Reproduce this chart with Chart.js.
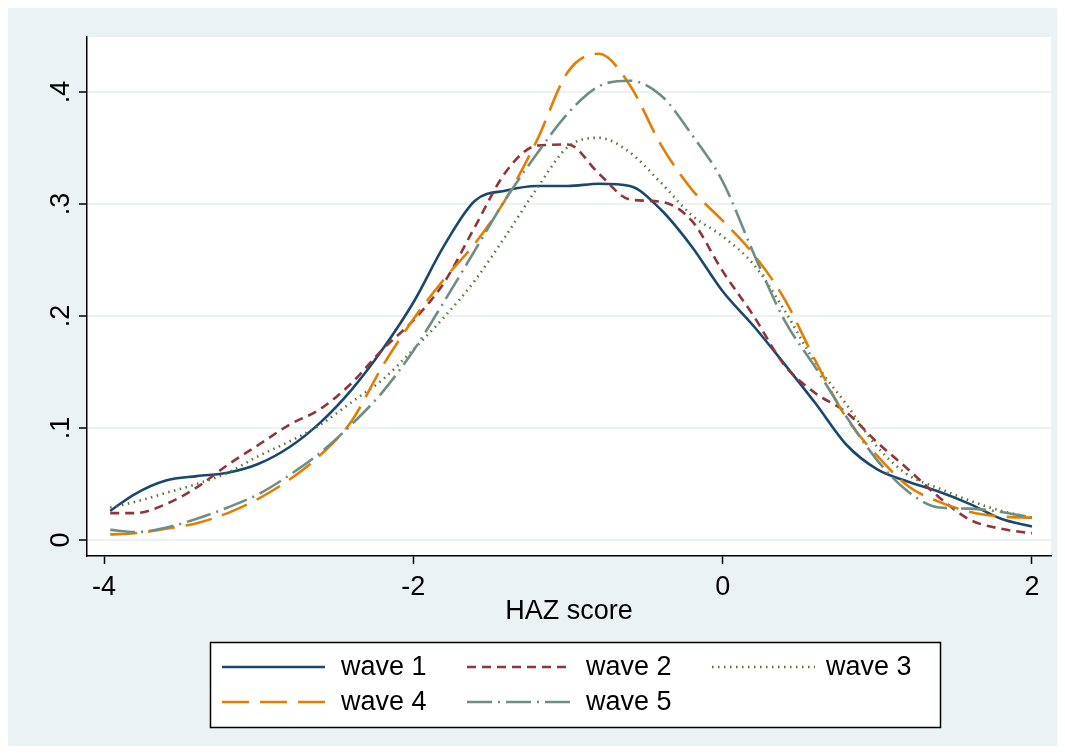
<!DOCTYPE html>
<html>
<head>
<meta charset="utf-8">
<title>HAZ score density by wave</title>
<script src="https://cdn.jsdelivr.net/npm/chart.js@4.4.1/dist/chart.umd.min.js"></script>
<style>
    html, body { margin: 0; padding: 0; background: #fff; }
    canvas { display: block; }
</style>
</head>
<body>
<canvas id="chartHaz" width="1065" height="754"></canvas>
<script>
// HAZ score grid (x) and kernel density per wave
const hazGrid = [-3.96, -3.8, -3.6, -3.4, -3.2, -3.0, -2.8, -2.6, -2.4, -2.2, -2.0, -1.8, -1.6, -1.4, -1.2, -1.0,
    -0.8, -0.6, -0.4, -0.2, 0, 0.2, 0.4, 0.6, 0.8, 1.0, 1.2, 1.4, 1.6, 1.8, 2.0];
const wave1 = [0.026, 0.041, 0.053, 0.057, 0.060, 0.068, 0.083, 0.105, 0.134, 0.170, 0.212, 0.263, 0.303, 0.312, 0.316, 0.316,
    0.318, 0.316, 0.295, 0.262, 0.222, 0.191, 0.157, 0.122, 0.085, 0.063, 0.052, 0.043, 0.032, 0.019, 0.012];
const wave2 = [0.024, 0.024, 0.032, 0.047, 0.067, 0.085, 0.103, 0.117, 0.140, 0.170, 0.196, 0.230, 0.280, 0.329, 0.352, 0.353,
    0.327, 0.304, 0.302, 0.285, 0.240, 0.200, 0.156, 0.131, 0.114, 0.087, 0.063, 0.038, 0.018, 0.010, 0.006];
const wave3 = [0.029, 0.034, 0.042, 0.050, 0.060, 0.075, 0.088, 0.103, 0.123, 0.143, 0.170, 0.199, 0.232, 0.272, 0.314, 0.351,
    0.359, 0.346, 0.319, 0.290, 0.271, 0.246, 0.205, 0.158, 0.121, 0.083, 0.058, 0.046, 0.035, 0.026, 0.020];
const wave4 = [0.005, 0.006, 0.010, 0.015, 0.024, 0.037, 0.054, 0.076, 0.106, 0.155, 0.197, 0.233, 0.265, 0.305, 0.357, 0.418,
    0.434, 0.406, 0.353, 0.313, 0.285, 0.255, 0.215, 0.160, 0.109, 0.075, 0.048, 0.034, 0.025, 0.021, 0.020];
const wave5 = [0.009, 0.007, 0.011, 0.019, 0.029, 0.041, 0.058, 0.078, 0.103, 0.132, 0.169, 0.213, 0.259, 0.305, 0.345, 0.381,
    0.405, 0.410, 0.397, 0.362, 0.320, 0.256, 0.196, 0.154, 0.110, 0.071, 0.043, 0.029, 0.028, 0.025, 0.020];

const waveLabels = ['wave 1', 'wave 2', 'wave 3', 'wave 4', 'wave 5'];
const xTicks = [-4, -2, 0, 2];
const yTicks = [0, 0.1, 0.2, 0.3, 0.4];

const FONT = '"Liberation Sans", Arial, Helvetica, sans-serif';
Chart.defaults.font.family = FONT;
Chart.defaults.font.size = 27;
Chart.defaults.color = '#000';

// Stata s2color-like styles
const styles = [
    { color: '#1a476f', dash: [] },
    { color: '#90353b', dash: [9, 6] },
    { color: '#55752f', dash: [1.5, 4.5] },
    { color: '#e37e00', dash: [27, 11] },
    { color: '#6e8e84', dash: [25, 6, 2, 6] }
];

const series = [wave1, wave2, wave3, wave4, wave5];
const datasets = series.map((vals, i) => ({
    label: waveLabels[i],
    data: hazGrid.map((x, k) => ({ x: x, y: vals[k] })),
    borderColor: styles[i].color,
    borderDash: styles[i].dash,
    borderWidth: 2.6,
    pointRadius: 0,
    fill: false,
    cubicInterpolationMode: 'monotone',
    order: 4 - i
}));

// Outer light panel + white plot region
const backdrop = {
    id: 'backdrop',
    beforeDraw(chart) {
        const { ctx, chartArea: a } = chart;
        ctx.save();
        ctx.fillStyle = '#fff';
        ctx.fillRect(0, 0, chart.width, chart.height);
        ctx.fillStyle = '#eaf2f3';
        ctx.fillRect(8, 8, 1049, 738);
        ctx.fillStyle = '#fff';
        ctx.fillRect(a.left, a.top, a.right - a.left, a.bottom - a.top);
        ctx.restore();
    }
};

// Boxed legend, 3 columns x 2 rows
const boxLegend = {
    id: 'boxLegend',
    afterDraw(chart) {
        const ctx = chart.ctx;
        const colX = [222, 467, 712];
        const textX = [341, 586, 826];
        const rowY = [667, 702];
        ctx.save();
        ctx.fillStyle = '#fff';
        ctx.fillRect(210, 642, 730, 85);
        ctx.strokeStyle = '#000';
        ctx.lineWidth = 1.5;
        ctx.strokeRect(210.5, 642.5, 730, 85);
        chart.data.datasets.forEach((ds, i) => {
            const col = i % 3, row = Math.floor(i / 3);
            const y = rowY[row];
            ctx.beginPath();
            ctx.setLineDash(ds.borderDash);
            ctx.strokeStyle = ds.borderColor;
            ctx.lineWidth = ds.borderWidth;
            ctx.moveTo(colX[col], y);
            ctx.lineTo(colX[col] + 103, y);
            ctx.stroke();
            ctx.setLineDash([]);
            ctx.fillStyle = '#000';
            ctx.font = '27px ' + FONT;
            ctx.textBaseline = 'middle';
            ctx.textAlign = 'left';
            ctx.fillText(ds.label, textX[col], y + 1);
        });
        ctx.restore();
    }
};

new Chart(document.getElementById('chartHaz').getContext('2d'), {
    type: 'line',
    data: { datasets: datasets },
    options: {
        responsive: false,
        animation: false,
        devicePixelRatio: 1,
        layout: { padding: { left: 0, top: 37, right: 14, bottom: 120 } },
        plugins: { legend: { display: false }, tooltip: { enabled: false } },
        scales: {
            x: {
                type: 'linear',
                min: -4.11,
                max: 2.123,
                afterBuildTicks: s => { s.ticks = xTicks.map(v => ({ value: v })); },
                afterFit: s => { s.height = 78; },
                grid: { drawOnChartArea: false, drawTicks: true, tickLength: 8, tickColor: '#000', tickWidth: 1.5 },
                border: { color: '#000', width: 1.5 },
                ticks: { padding: 7, maxRotation: 0, autoSkip: false, callback: v => String(v) },
                title: { display: true, text: 'HAZ score', padding: { top: 0, bottom: 6 } }
            },
            y: {
                type: 'linear',
                min: -0.0143,
                max: 0.449,
                afterBuildTicks: s => { s.ticks = yTicks.map(v => ({ value: v })); },
                afterFit: s => { s.width = 87; },
                grid: { color: '#eaf2f3', lineWidth: 2, tickLength: 8, tickColor: '#000', tickWidth: 1.5 },
                border: { color: '#000', width: 1.5 },
                ticks: {
                    minRotation: 90, maxRotation: 90, crossAlign: 'center', padding: 6, autoSkip: false,
                    callback: v => v === 0 ? '0' : v.toFixed(1).replace(/^0/, '')
                }
            }
        }
    },
    plugins: [backdrop, boxLegend]
});
</script>
</body>
</html>
